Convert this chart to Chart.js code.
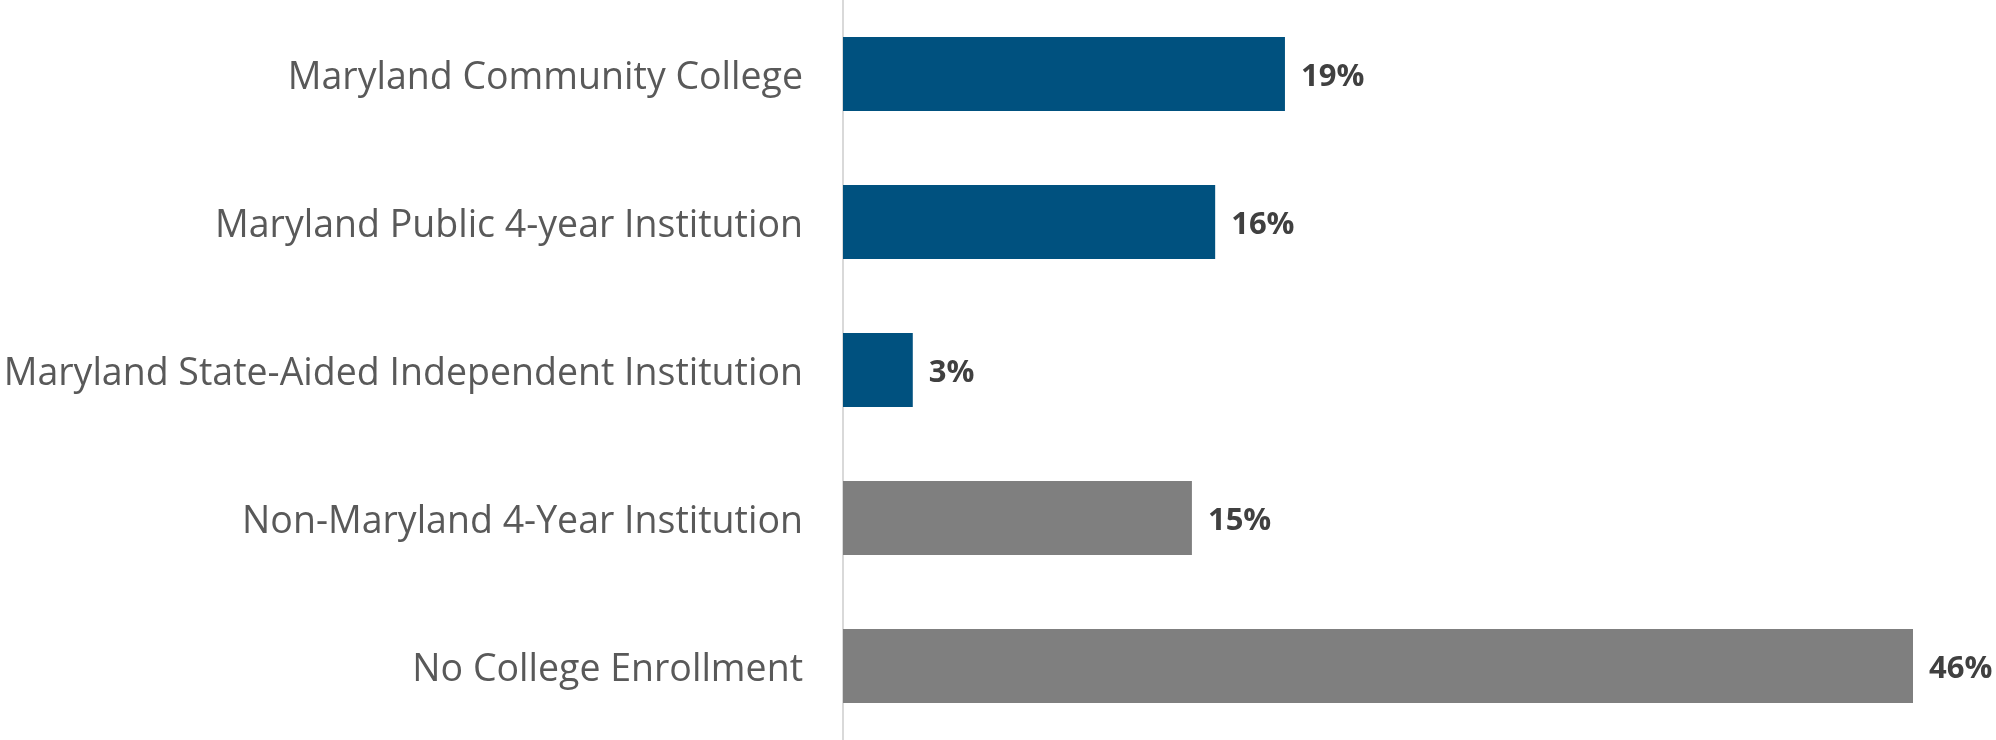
<!DOCTYPE html>
<html>
<head>
<meta charset="utf-8">
<script src="https://cdn.jsdelivr.net/npm/chart.js@4"></script>
<style>
  html, body { margin: 0; padding: 0; background: #fff; }
  #wrap { width: 1996px; height: 740px; }
</style>
</head>
<body>
<div id="wrap"><canvas id="enrollChart" width="1996" height="740"></canvas></div>
<script>
// Chart data
const categories = [
    'Maryland Community College',
    'Maryland Public 4-year Institution',
    'Maryland State-Aided Independent Institution',
    'Non-Maryland 4-Year Institution',
    'No College Enrollment'
];
const percentValues = [19, 16, 3, 15, 46];
const barColors = ['#00517F', '#00517F', '#00517F', '#7F7F7F', '#7F7F7F'];

// value labels at the end of each bar
const barLabels = {
    id: 'barLabels',
    afterDatasetsDraw(chart) {
        const ctx = chart.ctx;
        const meta = chart.getDatasetMeta(0);
        ctx.save();
        ctx.font = 'bold 31px "Open Sans"';
        ctx.fillStyle = '#404040';
        ctx.textAlign = 'left';
        ctx.textBaseline = 'middle';
        meta.data.forEach((bar, i) => {
            ctx.fillText(percentValues[i] + '%', bar.x + 16, bar.y + 3);
        });
        ctx.restore();
    }
};

new Chart(document.getElementById('enrollChart').getContext('2d'), {
    type: 'bar',
    data: {
        labels: categories,
        datasets: [{
            data: percentValues,
            backgroundColor: barColors,
            borderWidth: 0,
            barPercentage: 1,
            categoryPercentage: 0.5
        }]
    },
    options: {
        indexAxis: 'y',
        responsive: false,
        animation: false,
        layout: { padding: { top: 0, bottom: 0, left: 0, right: 83 } },
        scales: {
            x: { display: false, min: 0, max: 46 },
            y: {
                grid: { display: false },
                border: { display: true, color: '#D9D9D9', width: 2 },
                ticks: {
                    color: '#595959',
                    padding: 32,
                    labelOffset: 4,
                    font: { family: 'Open Sans', size: 37.5 }
                },
                afterFit(scale) {
                    scale.width = 843;
                    scale.paddingTop = 0;
                    scale.paddingBottom = 0;
                }
            }
        },
        plugins: {
            legend: { display: false },
            tooltip: { enabled: false }
        }
    },
    plugins: [barLabels]
});
</script>
</body>
</html>
